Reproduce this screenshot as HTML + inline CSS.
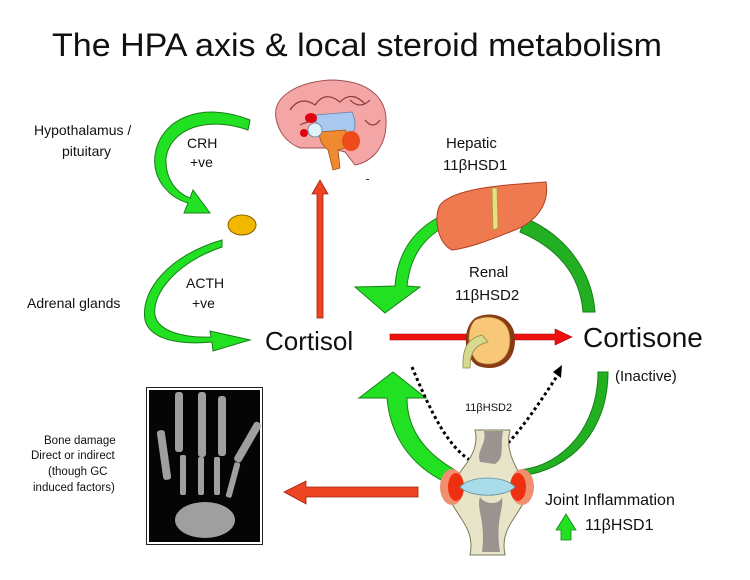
<!DOCTYPE html>
<html><head><meta charset="utf-8"><style>
html,body{margin:0;padding:0;background:#fff;}
svg{display:block;}
text{font-family:"Liberation Sans",sans-serif;fill:#111;}
</style></head><body>
<svg width="750" height="580" viewBox="0 0 750 580" xmlns="http://www.w3.org/2000/svg">
<text x="52" y="56" font-size="32" textLength="610" lengthAdjust="spacingAndGlyphs">The HPA axis &amp; local steroid metabolism</text>

<!-- Brain -->
<path d="M276,118 C272,95 300,82 330,80 C365,80 388,95 386,125 C385,150 370,162 355,165 L345,152 L330,148 L300,148 C285,142 278,130 276,118 Z" fill="#f4a6a6" stroke="#a05050" stroke-width="1"/>
<path d="M290,110 q10,-15 25,-5 q10,-15 25,-3 q12,-12 25,2 M300,125 q15,-8 30,0 M350,100 q10,10 20,0 M365,120 q8,10 15,0" fill="none" stroke="#8a3a3a" stroke-width="1.2"/>
<path d="M315,115 L352,112 Q358,125 352,135 L318,135 Z" fill="#a8c8f0" stroke="#6080b0" stroke-width="0.8"/>
<path d="M320,132 L345,130 Q352,140 345,148 L338,150 L340,168 L333,170 L328,150 Q318,142 320,132 Z" fill="#f08a30" stroke="#a05010" stroke-width="0.8"/>
<ellipse cx="351" cy="141" rx="9" ry="10" fill="#ee4a1a"/>
<circle cx="315" cy="130" r="7" fill="#dff4f8" stroke="#6080a0" stroke-width="0.8"/>
<ellipse cx="311" cy="118" rx="6" ry="5" fill="#e00010"/>
<ellipse cx="304" cy="133" rx="4" ry="4" fill="#e00010"/>
<rect x="366" y="179" width="3" height="1" fill="#333"/>

<!-- CRH arrow -->
<path d="M250,120 C200,100 160,120 155,155 C152,180 170,198 188,203 L184,213 L210,213 L193,190 L190,198 C175,192 165,178 166,158 C170,130 205,115 248,130 Z" fill="#22e022" stroke="#178017" stroke-width="1"/>
<ellipse cx="242" cy="225" rx="14" ry="10" fill="#f2b800" stroke="#8a6000" stroke-width="1"/>

<!-- ACTH arrow -->
<path d="M222,240 C170,255 140,290 145,320 C150,340 180,345 212,342 L213,351 L250,340 L210,331 L211,337 C185,338 158,332 155,315 C152,292 178,262 222,247 Z" fill="#22e022" stroke="#178017" stroke-width="1"/>

<text x="34" y="135" font-size="14">Hypothalamus /</text>
<text x="62" y="156" font-size="14">pituitary</text>
<text x="187" y="148" font-size="14">CRH</text>
<text x="190" y="167" font-size="14">+ve</text>
<text x="186" y="288" font-size="14">ACTH</text>
<text x="192" y="308" font-size="14">+ve</text>
<text x="27" y="308" font-size="14">Adrenal glands</text>

<!-- red vertical arrow -->
<path d="M317,318 L317,194 L312,194 L320,180 L328,194 L323,194 L323,318 Z" fill="#ee4422" stroke="#a02010" stroke-width="0.8"/>

<text x="265" y="350" font-size="26">Cortisol</text>
<text x="583" y="347" font-size="28">Cortisone</text>
<text x="615" y="381" font-size="15">(Inactive)</text>
<text x="446" y="148" font-size="15">Hepatic</text>
<text x="443" y="170" font-size="15">11βHSD1</text>
<text x="469" y="277" font-size="15">Renal</text>
<text x="455" y="300" font-size="15">11βHSD2</text>
<text x="465" y="411" font-size="11">11βHSD2</text>
<text x="545" y="505" font-size="16">Joint Inflammation</text>
<text x="585" y="530" font-size="16">11βHSD1</text>
<path d="M561,540 L561,530 L556,530 L566,514 L576,530 L571,530 L571,540 Z" fill="#22e022" stroke="#178017" stroke-width="0.8"/>

<!-- Upper green arcs -->
<path d="M437,218 C412,232 397,255 395,286 L355,287 L385,313 L420,287 L407,286 C410,258 422,240 442,228 Z" fill="#22e022" stroke="#178017" stroke-width="1"/>
<path d="M525,218 C565,235 592,270 595,312 L583,312 C580,275 558,248 520,232 Z" fill="#22b022" stroke="#168016" stroke-width="1"/>

<!-- Liver -->
<path d="M440,205 C455,186 520,184 546,182 C550,205 535,222 515,230 C495,238 470,248 452,250 C438,244 433,218 440,205 Z" fill="#f07a50" stroke="#b04020" stroke-width="1"/>
<path d="M492,188 L497,188 L498,228 L493,230 Z" fill="#e8e080" stroke="#a0a040" stroke-width="0.8"/>

<!-- red horizontal arrow -->
<path d="M390,334 L555,334 L555,329 L572,337 L555,345 L555,340 L390,340 Z" fill="#ee1010" stroke="#a00000" stroke-width="0.6"/>

<!-- Kidney -->
<path d="M475,318 C490,310 515,315 515,340 C515,365 495,372 478,366 C465,360 460,330 475,318 Z" fill="#8a3a10"/>
<path d="M475,320 C490,313 510,318 510,340 C510,362 492,368 478,362 C468,355 465,330 475,320 Z" fill="#f8c878" stroke="#a07030" stroke-width="0.8"/>
<path d="M482,335 C470,338 462,345 463,368 L470,368 C470,352 475,345 488,342 Z" fill="#d8d890" stroke="#8a8a40" stroke-width="0.8"/>

<!-- Lower green arcs -->
<path d="M455,470 C420,450 407,425 407,398 L426,398 L393,372 L359,398 L387,398 C390,435 410,465 445,482 Z" fill="#22e022" stroke="#178017" stroke-width="1"/>
<path d="M598,372 C598,425 565,465 520,470 L520,476 C572,470 608,430 608,372 Z" fill="#22b022" stroke="#168016" stroke-width="1"/>

<!-- dotted lines -->
<path d="M412,367 C430,410 450,455 480,465" fill="none" stroke="#000" stroke-width="3" stroke-dasharray="3,3"/>
<path d="M480,465 C505,455 535,410 557,376" fill="none" stroke="#000" stroke-width="3" stroke-dasharray="3,3"/>
<path d="M553,372 L562,365 L561,378 Z" fill="#000"/>

<!-- Joint -->
<path d="M475,430 L510,430 C505,450 515,465 520,475 L525,500 C515,520 500,530 505,555 L470,555 C475,530 460,520 450,500 L458,475 C465,465 480,450 475,430 Z" fill="#e8e4c8" stroke="#7a7a5a" stroke-width="1"/>
<path d="M484,431 L503,431 C500,448 505,458 495,464 L480,462 C476,450 487,445 484,431 Z" fill="#9a9490"/>
<path d="M480,497 C485,505 500,505 502,497 C504,510 495,520 500,552 L482,552 C486,520 476,510 480,497 Z" fill="#9a9490"/>
<ellipse cx="452" cy="487" rx="12" ry="18" fill="#f09070"/><ellipse cx="522" cy="487" rx="12" ry="18" fill="#f09070"/>
<ellipse cx="456" cy="487" rx="8" ry="14" fill="#ee3010"/><ellipse cx="518" cy="487" rx="8" ry="14" fill="#ee3010"/>
<path d="M460,487 C470,475 505,475 515,487 C505,498 470,498 460,487 Z" fill="#a8dce8" stroke="#6090a0" stroke-width="0.8"/>

<!-- red leftward arrow -->
<path d="M418,487 L306,487 L306,481 L284,492 L306,504 L306,497 L418,497 Z" fill="#ee4422" stroke="#a02010" stroke-width="0.8"/>

<!-- X-ray -->
<rect x="146.5" y="387.5" width="116" height="157" fill="#fff" stroke="#222" stroke-width="1"/>
<rect x="149" y="390" width="111" height="152" fill="#050505"/>
<g fill="#bbb" opacity="0.85">
<rect x="175" y="392" width="8" height="60" rx="3"/>
<rect x="198" y="392" width="8" height="65" rx="3"/>
<rect x="218" y="396" width="8" height="60" rx="3"/>
<rect x="160" y="430" width="8" height="50" rx="3" transform="rotate(-8 164 455)"/>
<rect x="245" y="420" width="8" height="45" rx="3" transform="rotate(30 249 440)"/>
<rect x="180" y="455" width="6" height="40" rx="2"/>
<rect x="198" y="457" width="6" height="38" rx="2"/>
<rect x="214" y="457" width="6" height="38" rx="2"/>
<rect x="230" y="462" width="6" height="36" rx="2" transform="rotate(15 233 480)"/>
<ellipse cx="205" cy="520" rx="30" ry="18"/>
</g>

<text x="44" y="444" font-size="11.5">Bone damage</text>
<text x="31" y="459" font-size="11.5">Direct or indirect</text>
<text x="48" y="475" font-size="11.5">(though GC</text>
<text x="33" y="491" font-size="11.5">induced factors)</text>
</svg>
</body></html>
